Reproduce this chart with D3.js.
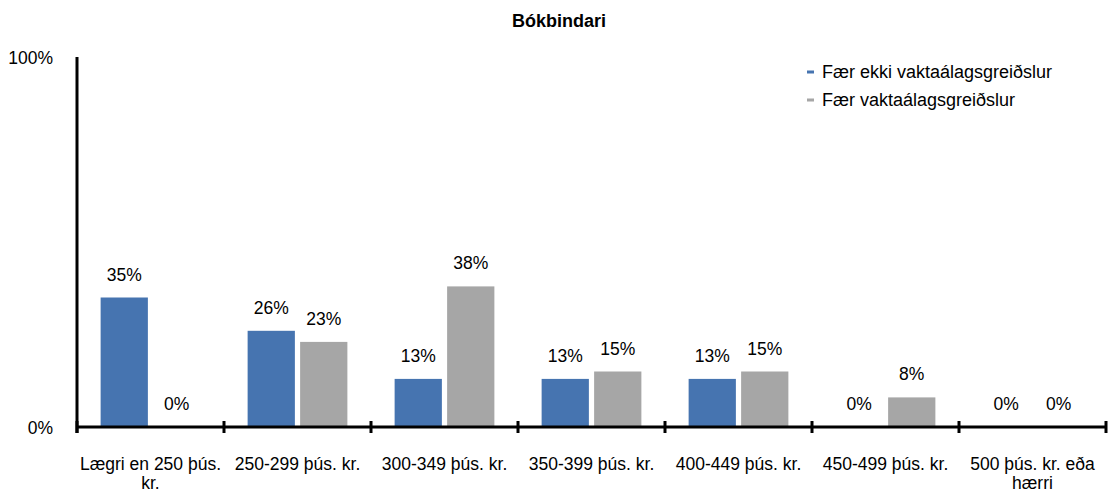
<!DOCTYPE html>
<html>
<head>
<meta charset="utf-8">
<script src="https://cdn.jsdelivr.net/npm/d3@7"></script>
<style>
  body { margin: 0; background: #fff; }
  text { font-family: "Liberation Sans", Arial, sans-serif; fill: #000; }
</style>
</head>
<body>
<svg id="chart" width="1113" height="497"></svg>
<script>
// data
var categories = ["Lægri en 250 þús. kr.", "250-299 þús. kr.", "300-349 þús. kr.", "350-399 þús. kr.",
                  "400-449 þús. kr.", "450-499 þús. kr.", "500 þús. kr. eða hærri"];
var seriesNames = ["Fær ekki vaktaálagsgreiðslur", "Fær vaktaálagsgreiðslur"];
var notShift = [35, 26, 13, 13, 13, 0, 0];
var shift = [0, 23, 38, 15, 15, 8, 0];
var yTicks = [0, 100];
var colors = ["#4674B0", "#A6A6A6"];

var svg = d3.select("#chart");
var margin = { left: 77, top: 57 };
var baseY = 427;
var fs = "17.5px";

var x = d3.scaleBand().domain(categories).range([margin.left, 1106]).padding(0);
var x1 = d3.scaleBand().domain([0, 1]).range([0, x.bandwidth()]).paddingInner(0.1).paddingOuter(0.45);
var y = d3.scaleLinear().domain([0, 100]).range([baseY, margin.top]);

// title
svg.append("text")
  .attr("x", 559).attr("y", 27)
  .attr("text-anchor", "middle")
  .style("font-size", "18px").style("font-weight", "bold")
  .text("Bókbindari");

// bars
var rows = categories.map(function(c, i) { return { cat: c, vals: [notShift[i], shift[i]] }; });
var groups = svg.selectAll("g.cat").data(rows).enter()
  .append("g").attr("class", "cat")
  .attr("transform", function(d) { return "translate(" + x(d.cat) + ",0)"; });

groups.selectAll("rect").data(function(d) { return d.vals; }).enter()
  .append("rect")
    .attr("x", function(d, i) { return x1(i); })
    .attr("width", x1.bandwidth())
    .attr("y", function(d) { return y(d); })
    .attr("height", function(d) { return baseY - y(d); })
    .style("fill", function(d, i) { return colors[i]; });

groups.selectAll("text.val").data(function(d) { return d.vals; }).enter()
  .append("text").attr("class", "val")
    .attr("x", function(d, i) { return x1(i) + x1.bandwidth() / 2; })
    .attr("y", function(d) { return y(d) - 17; })
    .attr("text-anchor", "middle")
    .style("font-size", fs)
    .text(function(d) { return d + "%"; });

// y axis
svg.append("line")
  .attr("x1", margin.left).attr("x2", margin.left)
  .attr("y1", y(100)).attr("y2", baseY + 6)
  .style("stroke", "#000").style("stroke-width", 3);

svg.selectAll("text.ytick").data(yTicks).enter()
  .append("text").attr("class", "ytick")
    .attr("x", 53).attr("y", function(d) { return y(d) + 7; })
    .attr("text-anchor", "end")
    .style("font-size", fs)
    .text(function(d) { return d + "%"; });

// x axis with tick marks at the band edges
svg.append("line")
  .attr("x1", margin.left).attr("x2", 1106)
  .attr("y1", baseY).attr("y2", baseY)
  .style("stroke", "#000").style("stroke-width", 3);

var edges = categories.map(function(c) { return x(c); }).concat([x.range()[1]]);
svg.selectAll("line.xtick").data(edges).enter()
  .append("line").attr("class", "xtick")
    .attr("x1", function(d) { return d; }).attr("x2", function(d) { return d; })
    .attr("y1", baseY - 6).attr("y2", baseY + 6)
    .style("stroke", "#000").style("stroke-width", 3);

// category labels, wrapped to the band width
var labels = svg.selectAll("text.xlab").data(categories).enter()
  .append("text").attr("class", "xlab")
    .attr("x", function(d) { return x(d) + x.bandwidth() / 2; })
    .attr("y", 470)
    .attr("text-anchor", "middle")
    .style("font-size", fs);

labels.each(function(d) {
  var el = d3.select(this), words = d.split(" "), line = [], lines = [];
  var probe = el.append("tspan");
  words.forEach(function(w) {
    line.push(w);
    probe.text(line.join(" "));
    if (probe.node().getComputedTextLength() > x.bandwidth() - 4 && line.length > 1) {
      line.pop();
      lines.push(line.join(" "));
      line = [w];
    }
  });
  lines.push(line.join(" "));
  probe.remove();
  lines.forEach(function(l, i) {
    el.append("tspan")
      .attr("x", x(d) + x.bandwidth() / 2)
      .attr("dy", i === 0 ? 0 : 19)
      .text(l);
  });
});

// legend
var legend = svg.selectAll("g.legend").data(seriesNames).enter()
  .append("g").attr("class", "legend")
  .attr("transform", function(d, i) { return "translate(807," + (72 + i * 28) + ")"; });
legend.append("rect")
  .attr("x", 0).attr("y", -1.5).attr("width", 7).attr("height", 3)
  .style("fill", function(d, i) { return colors[i]; });
legend.append("text")
  .attr("x", 15).attr("y", 6)
  .style("font-size", "18px")
  .text(function(d) { return d; });
</script>
</body>
</html>
